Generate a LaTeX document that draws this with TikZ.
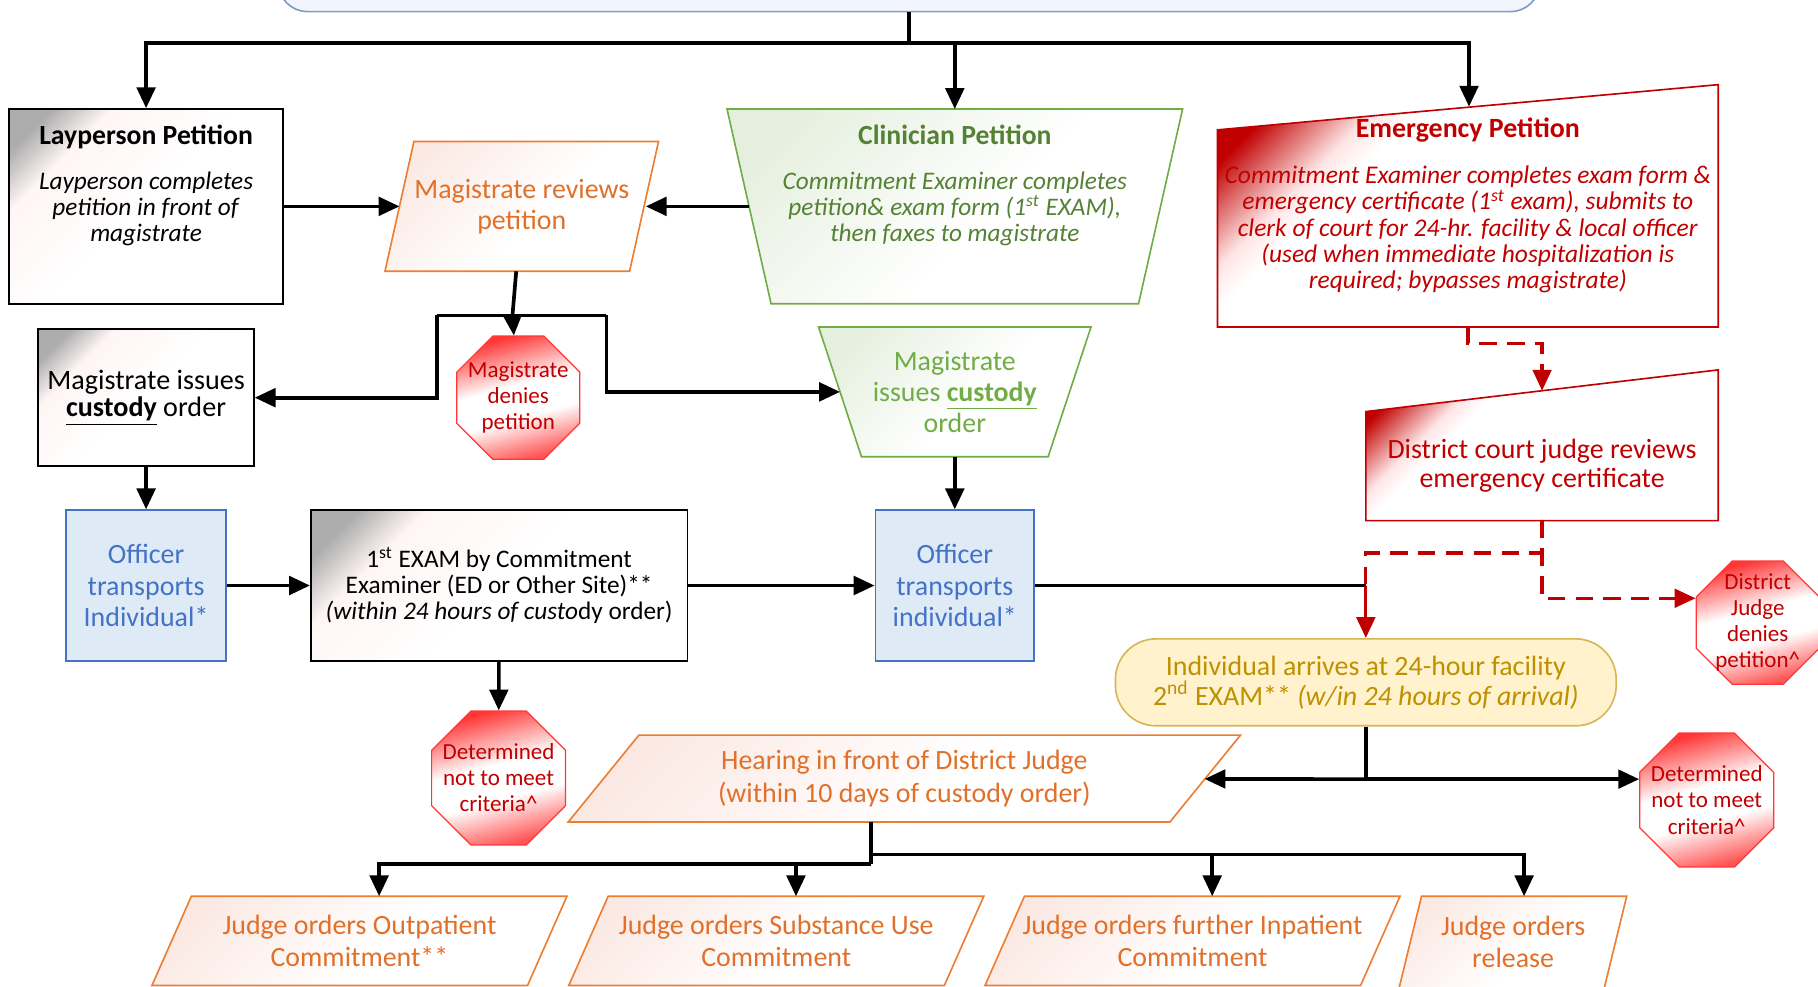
\documentclass[tikz,border=0pt]{standalone}
\usepackage{fontspec}
\setmainfont{Carlito}
\usetikzlibrary{shapes.geometric,arrows.meta}

\definecolor{orline}{RGB}{237,125,49}
\definecolor{ortext}{RGB}{224,112,42}
\definecolor{ortint}{RGB}{251,232,226}
\definecolor{grline}{RGB}{112,173,71}
\definecolor{grtext}{RGB}{84,130,53}
\definecolor{grtint}{RGB}{229,239,222}
\definecolor{blline}{RGB}{68,114,196}
\definecolor{blfill}{RGB}{222,234,246}
\definecolor{rdline}{RGB}{192,0,0}
\definecolor{stopred}{RGB}{255,55,55}
\definecolor{ylfill}{RGB}{255,242,204}
\definecolor{ylline}{RGB}{214,182,86}
\definecolor{yltext}{RGB}{191,144,0}
\definecolor{topfill}{RGB}{242,246,252}
\definecolor{topline}{RGB}{127,155,200}

\pgfdeclareverticalshading{graycorner}{100bp}{color(0bp)=(white); color(50bp)=(white); color(70bp)=(red!4!white); color(79bp)=(black!32); color(100bp)=(black!32)}
\pgfdeclareverticalshading{orangecorner}{100bp}{color(0bp)=(white); color(45bp)=(white); color(78bp)=(ortint); color(100bp)=(ortint)}
\pgfdeclareverticalshading{greencorner}{100bp}{color(0bp)=(white); color(45bp)=(white); color(78bp)=(grtint); color(100bp)=(grtint)}
\pgfdeclareverticalshading{redcorner}{100bp}{color(0bp)=(white); color(64bp)=(white); color(68bp)=(red!10!white); color(78bp)=(rdline); color(100bp)=(rdline)}
\pgfdeclareverticalshading{stopfade}{100bp}{color(0bp)=(stopred); color(25bp)=(stopred!85); color(42bp)=(white); color(55bp)=(white); color(75bp)=(stopred); color(100bp)=(stopred)}

% outlines drawn round an invisible frame node
\newcommand{\leanpath}[3]{\path[#1] ([xshift=#3]#2.north west) -- (#2.north east) -- ([xshift=-#3]#2.south east) -- (#2.south west) -- cycle;}
\newcommand{\cuppath}[3]{\path[#1] (#2.north west) -- (#2.north east) -- ([xshift=-#3]#2.south east) -- ([xshift=#3]#2.south west) -- cycle;}
\newcommand{\manpath}[3]{\path[#1] (#2.south west) -- (#2.south east) -- (#2.north east) -- ([yshift=-#3]#2.north west) -- cycle;}

\tikzset{
  plain/.style={line width=1.8pt},
  link/.style={plain, -{Triangle[length=0.36cm,width=0.32cm]}},
  redlink/.style={rdline, line width=1.6pt, -{Triangle[length=0.36cm,width=0.32cm]}},
  reddash/.style={redlink, dash pattern=on 0.3cm off 0.18cm},
  hullbox/.style={inner sep=0, outer sep=0},
  graybox/.style={draw=black, line width=0.8pt, shade, shading=graycorner, shading angle=45, inner sep=0, align=center},
  bluebox/.style={draw=blline, line width=0.8pt, fill=blfill, inner sep=0, align=center, text=blline, font=\fontsize{13.7}{15.4}\selectfont},
  orshape/.style={draw=orline, line width=0.8pt, shade, shading=orangecorner, shading angle=45},
  grshape/.style={draw=grline, line width=0.8pt, shade, shading=greencorner, shading angle=45},
  manin/.style={draw=rdline, line width=0.8pt, shade, shading=redcorner, shading angle=45},
  stopsign/.style={regular polygon, regular polygon sides=8, draw=stopred, line width=0.6pt, shade, shading=stopfade, shading angle=15, inner sep=0},
  stoptext/.style={align=center, text=rdline, font=\fontsize{11.3}{12.8}\selectfont},
  ortxt/.style={align=center, text=ortext, font=\fontsize{13.7}{15.4}\selectfont}
}

\begin{document}
\begin{tikzpicture}[x=0.02cm, y=-0.02cm]
\useasboundingbox (0,0) rectangle (1568,851);

% start box (cut at the top)
\node[draw=topline, fill=topfill, line width=0.8pt, rounded corners=0.5cm, minimum width=21.76cm, minimum height=1.2cm] (src) at (784,-20) {};
\coordinate (trunk) at (784,37);

% three petitions
\node[graybox, minimum width=4.72cm, minimum height=3.36cm] (lay) at (126,178) {};
\node[align=center, font=\fontsize{12.4}{12.8}\selectfont] (layt) at (126,160) {\textbf{\fontsize{13.6}{14}\selectfont Layperson Petition}\\[9pt]\textit{Layperson completes}\\\textit{petition in front of}\\\textit{magistrate}};

\node[hullbox, minimum width=7.86cm, minimum height=3.36cm] (cli) at (823.5,178) {};
\cuppath{grshape}{cli}{0.76cm}
\node[align=center, text=grtext, font=\fontsize{12.4}{12.8}\selectfont] (clit) at (823.5,160) {\textbf{\fontsize{13.6}{14}\selectfont Clinician Petition}\\[9pt]\textit{Commitment Examiner completes}\\\textit{petition\& exam form (1\textsuperscript{st} EXAM),}\\\textit{then faxes to magistrate}};

\node[hullbox, minimum width=8.64cm, minimum height=4.18cm] (emerg) at (1266,177.5) {};
\manpath{manin}{emerg}{0.78cm}
\node[align=center, text=rdline, font=\fontsize{12.5}{12.8}\selectfont] (emergt) at (1266,177) {\textbf{\fontsize{13.7}{14}\selectfont Emergency Petition}\\[10pt]\textit{Commitment Examiner completes exam form \&}\\\textit{emergency certificate (1\textsuperscript{st} exam), submits to}\\\textit{clerk of court for 24-hr. facility \& local officer}\\\textit{(used when immediate hospitalization is}\\\textit{required; bypasses magistrate)}};
\coordinate (emtop) at (1267,92);

\draw[plain] (src) -- (trunk);
\draw[link] (trunk) -| (lay);
\draw[link] (trunk) -| (cli);
\draw[link] (trunk) -| (emtop);

% magistrate
\node[hullbox, minimum width=4.72cm, minimum height=2.24cm] (rev) at (450,178) {};
\leanpath{orshape}{rev}{0.5cm}
\node[ortxt] (revt) at (rev) {Magistrate reviews\\petition};
\draw[link, shorten >=-0.25cm] (lay) -- (rev);
\draw[link, shorten <=-0.38cm, shorten >=-0.22cm] (cli) -- (rev);

\node[graybox, minimum width=3.72cm, minimum height=2.36cm, font=\fontsize{13.8}{13.6}\selectfont] (mag) at (126,343) {Magistrate issues\\\underline{\textbf{custody}} order};
\node[stopsign, minimum size=2.3cm] (den1) at (447,343) {};
\node[stoptext] (den1t) at (den1) {Magistrate\\denies\\petition};
\node[hullbox, minimum width=4.7cm, minimum height=2.24cm] (gmag) at (823.5,338) {};
\cuppath{grshape}{gmag}{0.74cm}
\node[align=center, text=grline, font=\fontsize{13.7}{15.4}\selectfont] (gmagt) at (gmag) {Magistrate\\issues \underline{\textbf{custody}}\\order};

\coordinate (rj) at (442,272);
\coordinate (rl) at (377,272);
\coordinate (rr) at (523,272);
\draw[plain] (rev) -- (rj);
\draw[plain] (rl) -- (rr);
\draw[link] (rj) -- (den1);
\draw[link] (rl) |- (mag);
\draw[link, shorten >=-0.37cm] (rr) |- (gmag);

% transport and 1st exam
\node[bluebox, minimum width=2.76cm, minimum height=2.6cm] (off1) at (126,505) {Officer\\transports\\Individual*};
\node[graybox, minimum width=6.5cm, minimum height=2.6cm, font=\fontsize{12.4}{13}\selectfont] (exam1) at (430.5,505) {1\textsuperscript{st} EXAM by Commitment\\Examiner (ED or Other Site)**\\\textit{(within 24 hours of custo}dy order)};
\node[bluebox, minimum width=2.74cm, minimum height=2.6cm] (off2) at (823.5,505) {Officer\\transports\\individual*};
\node[stopsign, minimum size=2.5cm] (det1) at (430,671) {};
\node[stoptext] (det1t) at (det1) {Determined\\not to meet\\criteria\^{}};

\draw[link] (mag) -- (off1);
\draw[link] (gmag) -- (off2);
\draw[link] (off1) -- (exam1);
\draw[link] (exam1) -- (off2);
\draw[link] (exam1) -- (det1);

% emergency branch
\node[hullbox, minimum width=6.08cm, minimum height=2.6cm] (dcj) at (1330,384) {};
\manpath{manin}{dcj}{0.72cm}
\node[align=center, text=rdline, font=\fontsize{13.7}{14.2}\selectfont] (dcjt) at (1330,401.5) {District court judge reviews\\emergency certificate};
\coordinate (dctop) at (1330,337);
\node[stopsign, minimum size=2.3cm] (djd) at (1516,537) {};
\node[stoptext] (djdt) at (djd) {District\\Judge\\denies\\petition\^{}};

\node[draw=ylline, fill=ylfill, line width=0.8pt, rounded corners=0.7cm, minimum width=8.64cm, minimum height=1.5cm, align=center, text=yltext, font=\fontsize{13.7}{14.7}\selectfont] (ind) at (1178,588.5) {Individual arrives at 24-hour facility\\2\textsuperscript{nd} EXAM** \textit{(w/in 24 hours of arrival)}};
\coordinate (j2) at (1178,505);

\draw[reddash] (emerg.south) -- ++(0,14) -| (dctop);
\draw[reddash, -] (dcj.south) -- ++(0,28) -| (j2);
\draw[reddash] (dcj.south) |- ([yshift=0.42cm]djd.west);
\draw[plain] (off2) -- (j2);
\draw[redlink] (j2) -- (ind);

% hearing
\node[hullbox, minimum width=11.6cm, minimum height=1.5cm] (hear) at (780,671.5) {};
\leanpath{orshape}{hear}{1.22cm}
\node[ortxt, font=\fontsize{13.7}{15.9}\selectfont] (heart) at (hear) {Hearing in front of District Judge\\(within 10 days of custody order)};
\node[stopsign, minimum size=2.5cm] (det2) at (1472,690) {};
\node[stoptext] (det2t) at (det2) {Determined\\not to meet\\criteria\^{}};
\coordinate (j3) at (1178,672);
\draw[plain] (ind) -- (j3);
\draw[link, shorten >=-0.62cm] (j3) -- (hear);
\draw[link] (j3) -- (j3 -| det2.west);

% judge orders
\node[hullbox, minimum width=7.16cm, minimum height=1.54cm] (out) at (310,811.5) {};
\leanpath{orshape}{out}{0.68cm}
\node[ortxt] (outt) at (out) {Judge orders Outpatient\\Commitment**};
\node[hullbox, minimum width=7.16cm, minimum height=1.54cm] (sub) at (669.5,811.5) {};
\leanpath{orshape}{sub}{0.68cm}
\node[ortxt] (subt) at (sub) {Judge orders Substance Use\\Commitment};
\node[hullbox, minimum width=7.16cm, minimum height=1.54cm] (inp) at (1028.5,811.5) {};
\leanpath{orshape}{inp}{0.68cm}
\node[ortxt] (inpt) at (inp) {Judge orders further Inpatient\\Commitment};
\node[hullbox, minimum width=3.98cm, minimum height=1.8cm] (rel) at (1303.5,818) {};
\leanpath{orshape}{rel}{0.44cm}
\node[ortxt] (relt) at (1305,812.5) {Judge orders\\release};

\coordinate (hj) at (751,745);
\coordinate (hk) at (751,737);
\draw[plain] (hj |- hear.south) -- (hj);
\draw[link] (hj) -| ([xshift=0.34cm]out.north);
\draw[link] (hj) -| ([xshift=0.34cm]sub.north);
\draw[link] (hk) -| ([xshift=0.34cm]inp.north);
\draw[link] (hk) -| ([xshift=0.22cm]rel.north);
\end{tikzpicture}
\end{document}
